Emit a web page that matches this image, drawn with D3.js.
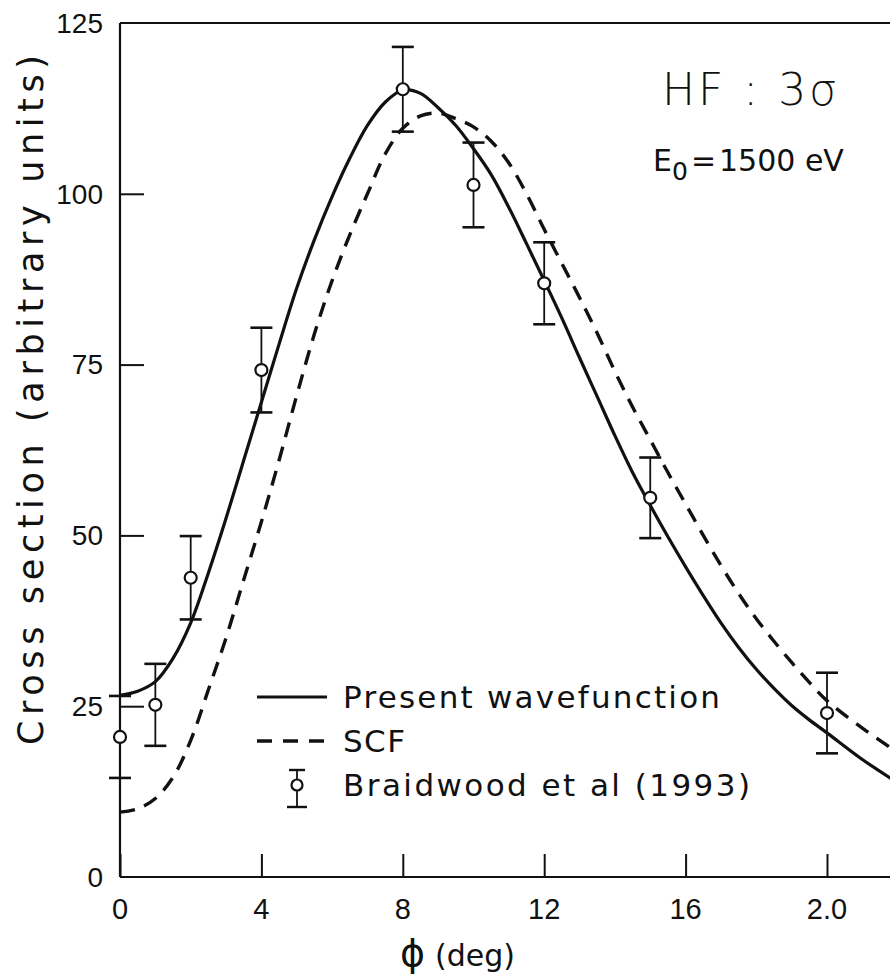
<!DOCTYPE html>
<html>
<head>
<meta charset="utf-8">
<script src="https://cdn.jsdelivr.net/npm/d3@7"></script>
<style>
  html, body { margin: 0; padding: 0; background: #fff; }
  svg { display: block; }
  text { fill: #111; }
</style>
</head>
<body>
<div id="chart"></div>
<script>
// measured data (HF 3σ, E0 = 1500 eV)
const phiExp = [0, 1, 2, 4, 8, 10, 12, 15, 20];
const csExp = [20.5, 25.2, 43.8, 74.2, 115.3, 101.3, 86.9, 55.5, 24.0];
const errExp = [6.0, 6.0, 6.1, 6.2, 6.2, 6.2, 6.0, 5.9, 5.9];

// theory curves
const phiCurve = [0, 0.5, 1, 1.5, 2, 2.5, 3, 3.5, 4, 4.5, 5, 5.5, 6, 6.5, 7, 7.5, 8, 8.5, 9, 9.5, 10,
  10.5, 11, 11.5, 12, 12.5, 13, 13.5, 14, 14.5, 15, 15.5, 16, 16.5, 17, 17.5, 18, 18.5, 19, 19.5, 20, 21, 22];
const presentWf = [26.6, 27.2, 28.6, 32, 37.2, 44.5, 52.5, 61, 69.5, 78, 86.2, 93.3, 99.6, 105.2, 110, 113.4, 115.2, 114.7, 112.6, 110, 106.6,
  102.8, 98, 92.7, 87.3, 81.8, 76, 70.3, 64.6, 59.2, 54.4, 49.8, 45.4, 41.2, 37.2, 33.6, 30.4, 27.6, 25.1, 23, 21.1, 17.2, 13.8];
const scf = [9.5, 10, 11.5, 14.6, 20, 27.4, 35, 43.5, 52, 61, 70.5, 79.5, 87.3, 94, 100, 105.8, 109.6, 111.4, 111.8, 111, 109.8,
  107.7, 104.5, 100, 94.8, 89.8, 84.8, 79.6, 74, 68.8, 64, 59.2, 54.6, 50, 45.6, 41.5, 37.8, 34.5, 31.4, 28.5, 25.8, 21.8, 18.2];

const xTicks = [0, 4, 8, 12, 16, 20];
const xTickLabels = ["0", "4", "8", "12", "16", "2.0"];
const yTicks = [0, 25, 50, 75, 100, 125];

const legendLabels = ["Present wavefunction", "SCF", "Braidwood et al (1993)"];

(() => {
  const width = 890, height = 977;
  const ink = "#111";
  const numFont = "'Liberation Sans', Arial, sans-serif";
  const txtFont = "'DejaVu Sans', Verdana, sans-serif";

  const svg = d3.select("#chart").append("svg")
    .attr("width", width)
    .attr("height", height);

  const x = d3.scaleLinear().domain([0, 20]).range([120, 827]);
  const y = d3.scaleLinear().domain([0, 125]).range([877, 23]);

  // frame: left, bottom, top (right side runs off the page)
  const frame = svg.append("g").attr("stroke", ink).attr("stroke-width", 2.2).attr("fill", "none");
  frame.append("line").attr("x1", x(0)).attr("x2", x(0)).attr("y1", y(125)).attr("y2", y(0));
  frame.append("line").attr("x1", x(0)).attr("x2", width).attr("y1", y(0)).attr("y2", y(0));
  frame.append("line").attr("x1", x(0)).attr("x2", width).attr("y1", y(125)).attr("y2", y(125));

  // axes with inward ticks
  const xAxis = svg.append("g")
    .attr("transform", `translate(0,${y(0)})`)
    .call(d3.axisTop(x).tickValues(xTicks).tickSize(23).tickFormat(""));
  xAxis.select(".domain").remove();
  xAxis.selectAll("line").attr("stroke", ink).attr("stroke-width", 2);

  const yAxis = svg.append("g")
    .attr("transform", `translate(${x(0)},0)`)
    .call(d3.axisRight(y).tickValues(yTicks.slice(1, -1)).tickSize(24).tickFormat(""));
  yAxis.select(".domain").remove();
  yAxis.selectAll("line").attr("stroke", ink).attr("stroke-width", 2);

  // tick labels
  svg.append("g").selectAll("text")
    .data(xTicks)
    .join("text")
    .attr("x", d => x(d))
    .attr("y", 919)
    .attr("text-anchor", "middle")
    .style("font-family", numFont)
    .style("font-size", "29px")
    .text((d, i) => xTickLabels[i]);

  svg.append("g").selectAll("text")
    .data(yTicks)
    .join("text")
    .attr("x", 103)
    .attr("y", d => y(d))
    .attr("dy", "0.35em")
    .attr("text-anchor", "end")
    .style("font-family", numFont)
    .style("font-size", "28px")
    .text(d => d);

  // axis titles
  svg.append("text")
    .attr("transform", "translate(43,400) rotate(-90)")
    .attr("text-anchor", "middle")
    .attr("textLength", 690)
    .attr("lengthAdjust", "spacing")
    .style("font-family", txtFont)
    .style("font-size", "35px")
    .text("Cross section (arbitrary units)");

  const xt = svg.append("text")
    .attr("x", 400)
    .attr("y", 966)
    .style("font-family", txtFont)
    .style("font-size", "30px");
  xt.append("tspan").style("font-size", "38px").text("\u03D5");
  xt.append("tspan").attr("dx", 10).text("(deg)");

  // curves
  const line = d3.line()
    .x(d => x(d[0]))
    .y(d => y(d[1]))
    .curve(d3.curveCatmullRom.alpha(0.5));

  svg.append("path")
    .datum(phiCurve.map((p, i) => [p, scf[i]]))
    .attr("d", line)
    .attr("fill", "none")
    .attr("stroke", ink)
    .attr("stroke-width", 3.4)
    .attr("stroke-dasharray", "15,10");

  svg.append("path")
    .datum(phiCurve.map((p, i) => [p, presentWf[i]]))
    .attr("d", line)
    .attr("fill", "none")
    .attr("stroke", ink)
    .attr("stroke-width", 3.2);

  // experimental points with error bars
  const pts = phiExp.map((p, i) => ({ phi: p, cs: csExp[i], err: errExp[i] }));
  const capW = 11;
  const eb = svg.append("g").attr("stroke", ink).attr("fill", "none");
  const g = eb.selectAll("g").data(pts).join("g");
  g.append("line")
    .attr("x1", d => x(d.phi)).attr("x2", d => x(d.phi))
    .attr("y1", d => y(d.cs + d.err)).attr("y2", d => y(d.cs - d.err))
    .attr("stroke-width", 1.8);
  g.append("line")
    .attr("x1", d => x(d.phi) - capW).attr("x2", d => x(d.phi) + capW)
    .attr("y1", d => y(d.cs + d.err)).attr("y2", d => y(d.cs + d.err))
    .attr("stroke-width", 2.6);
  g.append("line")
    .attr("x1", d => x(d.phi) - capW).attr("x2", d => x(d.phi) + capW)
    .attr("y1", d => y(d.cs - d.err)).attr("y2", d => y(d.cs - d.err))
    .attr("stroke-width", 2.6);
  g.append("circle")
    .attr("cx", d => x(d.phi))
    .attr("cy", d => y(d.cs))
    .attr("r", 6)
    .attr("fill", "#fff")
    .attr("stroke-width", 2.2);

  // annotation
  svg.append("text")
    .attr("x", 662).attr("y", 105)
    .attr("textLength", 175)
    .attr("lengthAdjust", "spacing")
    .style("font-family", txtFont)
    .style("font-weight", 300)
    .style("font-size", "44px")
    .text("HF : 3\u03C3");

  const e0 = svg.append("text")
    .attr("x", 653).attr("y", 171)
    .style("font-family", txtFont)
    .style("font-size", "30px");
  e0.append("tspan").text("E");
  e0.append("tspan").attr("dy", 9).style("font-size", "25px").text("0");
  e0.append("tspan").attr("dy", -9).attr("dx", 3).text("=");
  e0.append("tspan").attr("dx", 3).text("1500 eV");

  // legend
  const lg = svg.append("g");
  const lx0 = 257, lx1 = 327, tx = 343;
  const rows = [697, 741, 785];
  lg.append("line").attr("x1", lx0).attr("x2", lx1).attr("y1", rows[0]).attr("y2", rows[0])
    .attr("stroke", ink).attr("stroke-width", 3.2);
  lg.append("line").attr("x1", lx0).attr("x2", lx1).attr("y1", rows[1]).attr("y2", rows[1])
    .attr("stroke", ink).attr("stroke-width", 3.4).attr("stroke-dasharray", "15,11");
  const sx = 297;
  lg.append("line").attr("x1", sx).attr("x2", sx).attr("y1", rows[2] - 15).attr("y2", rows[2] + 22)
    .attr("stroke", ink).attr("stroke-width", 1.8);
  lg.append("line").attr("x1", sx - 8).attr("x2", sx + 8).attr("y1", rows[2] - 15).attr("y2", rows[2] - 15)
    .attr("stroke", ink).attr("stroke-width", 2.4);
  lg.append("line").attr("x1", sx - 10).attr("x2", sx + 10).attr("y1", rows[2] + 22).attr("y2", rows[2] + 22)
    .attr("stroke", ink).attr("stroke-width", 2.4);
  lg.append("circle").attr("cx", sx).attr("cy", rows[2]).attr("r", 5.5)
    .attr("fill", "#fff").attr("stroke", ink).attr("stroke-width", 2.2);

  const lens = [377, 62, 407];
  lg.selectAll("text.lab")
    .data(legendLabels)
    .join("text")
    .attr("class", "lab")
    .attr("x", tx)
    .attr("y", (d, i) => rows[i])
    .attr("dy", "0.35em")
    .attr("textLength", (d, i) => lens[i])
    .attr("lengthAdjust", "spacing")
    .style("font-family", txtFont)
    .style("font-size", "31px")
    .text(d => d);
})();
</script>
</body>
</html>
